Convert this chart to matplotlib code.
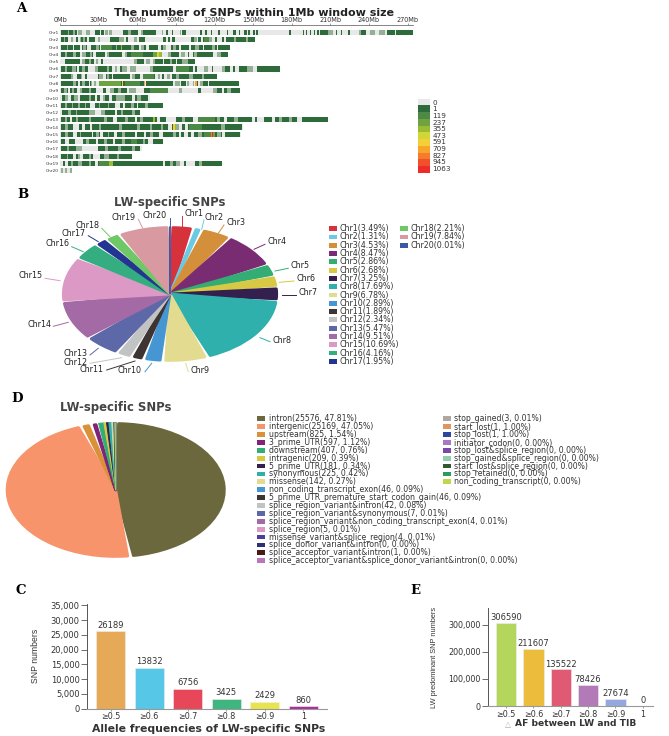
import matplotlib
matplotlib.use('Agg')
import matplotlib.pyplot as plt
from matplotlib.patches import Rectangle

W, H = 669, 736

# Panel A: chromosome lengths (Mb) and SNP-rich stretches
chrom_names = ['Chr%d' % i for i in range(1, 21)]
chrom_len = [274, 151.5, 132, 130.6, 104.5, 170.7, 122, 139, 139.5, 69.4,
             79.5, 62, 208, 141.7, 140.4, 80, 63.5, 56, 126, 9]
chr1_blocks = [(0.5, 6), (6.5, 13), (13.5, 16.6), (20, 23), (27, 31), (32, 34), (35, 37), (38, 40), (48.5, 53), (54, 60.7), (62.5, 74.5), (79, 80), (82, 84), (87, 87.7), (93, 94), (95, 98), (109, 110), (112.6, 114), (117, 118), (123, 124), (129.5, 130.5), (134.6, 136.7), (139, 140), (143, 145), (146, 147.6), (150, 151), (152, 154), (178, 179.5), (188.6, 189.5), (191, 192), (194, 195), (197, 198), (199.5, 200.8), (202, 208.6), (211, 212), (214, 215.5), (218, 219), (224, 225), (232, 238), (241, 245), (247.5, 252.7), (254, 260), (261, 274)]
chr2_blocks = [(0.5, 6), (8, 10), (12, 14), (15, 20.5), (22.5, 27), (29, 31), (38.6, 49.5), (51, 53), (57, 59.5), (61.5, 66), (80, 82), (84, 85), (87, 89), (101.7, 106), (107.4, 109.5), (111, 118), (120, 122), (126, 127.4), (129, 151.5)]
chr3_blocks = [(0.5, 10), (11, 15), (16.5, 21), (24, 31), (32, 61), (63, 67), (69, 76), (78, 82), (86, 92), (94, 100), (102, 111), (112, 122), (123, 132)]
chr4_blocks = [(0.5, 15), (16.6, 25.7), (28, 35), (36, 48), (50, 79), (83.5, 92), (94, 97), (99, 100), (103, 119), (121.6, 130.6)]
chr5_blocks = [(3.6, 15.3), (16.6, 26), (28, 29.6), (32, 33), (57.6, 65), (66.4, 69.8), (72, 80), (81, 90), (91, 105)]
chr6_blocks = [(0.5, 12.7), (14.8, 21.8), (27, 40), (42.5, 44.4), (46.4, 51.6), (54, 59), (69.8, 88), (90.5, 103), (105, 106), (112, 115), (117.7, 119), (125.6, 132), (134.6, 135.5), (139.3, 150), (152.8, 170.7)]
chr7_blocks = [(0.5, 10), (12.7, 17), (19, 21), (29.6, 33.5), (35.5, 40), (41, 54), (55.5, 62), (64.6, 73.7), (75.7, 77.6), (78.9, 80.7), (82.7, 85), (86.6, 122)]
chr8_blocks = [(0.5, 14), (15, 22), (23, 25), (26, 28), (30, 34), (37, 66), (67, 88), (89.5, 93), (93.5, 97.5), (98.5, 100), (103, 104), (106, 107), (109, 115), (116, 139)]
chr9_blocks = [(0.5, 6), (7.5, 13), (15, 28), (33.5, 35.5), (38.6, 51.6), (53.4, 59), (65, 84), (92, 95), (107.4, 109.5), (119, 125.6), (127, 139.5)]
chr10_blocks = [(1, 6), (8, 14), (15.3, 27), (28.8, 31), (33.5, 38), (40, 55.5), (58, 68)]
chr11_blocks = [(0.5, 23), (27, 42.5), (46.4, 49), (50.3, 59.4), (60.7, 79.6)]
chr12_blocks = [(1.5, 27), (32, 42.5), (43.8, 62)]
chr13_blocks = [(0.5, 7.5), (8.8, 41), (44, 58), (60, 75), (77.6, 82), (89.8, 103.5), (107.4, 127), (130, 149), (151.5, 153), (158, 164.5), (167, 184), (188, 208)]
chr14_blocks = [(0.5, 10), (14.8, 16.6), (19, 23), (25, 84), (86.6, 92), (94.4, 97), (99, 141)]
chr15_blocks = [(0.5, 10), (13, 24.4), (25.7, 31), (33, 42), (44, 58), (60, 65), (67, 77), (80, 92), (94, 96), (99, 102), (104, 125.6), (128, 140)]
chr16_blocks = [(0.5, 3.6), (7, 11.4), (18, 28), (29.6, 41), (42.5, 68.5), (72, 80)]
chr17_blocks = [(0.5, 16.6), (24.4, 25), (29.6, 62)]
chr18_blocks = [(0.5, 10), (12, 15.3), (18, 25.7), (31, 56)]
chr19_blocks = [(2, 3.6), (6, 27), (29.6, 80), (81.5, 93), (96, 98), (105, 126)]
chr20_blocks = [(0.5, 2.3), (3.6, 5), (7.5, 8.8)]
chrom_blocks = [chr1_blocks, chr2_blocks, chr3_blocks, chr4_blocks, chr5_blocks, chr6_blocks, chr7_blocks,
                chr8_blocks, chr9_blocks, chr10_blocks, chr11_blocks, chr12_blocks, chr13_blocks, chr14_blocks,
                chr15_blocks, chr16_blocks, chr17_blocks, chr18_blocks, chr19_blocks, chr20_blocks]
# low density stretches that show up pale in the ideogram
chrom_pale = [[(6, 7), (10, 11.5), (14, 16.6), (20, 23), (35, 37), (38, 40), (53, 55), (62.5, 64), (79, 80), (93, 94), (208, 212), (232, 234), (241, 245), (247.5, 252.7)],
              [(3, 4), (8, 10), (15, 16), (18, 19), (29, 31), (46, 49.5), (57, 59.5), (104, 106), (116, 118), (135, 137), (144, 146)],
              [(5, 6), (18, 20), (28, 30), (43, 44), (55, 57), (63, 65), (80, 82), (88, 90), (105, 108), (118, 120)],
              [(4, 5), (10, 12), (17, 20), (23, 25), (36, 38), (50, 52), (83.5, 86), (94, 97), (104, 106), (122, 125)],
              [(16.6, 19), (22, 24), (28, 29.6), (57.6, 60), (66.4, 69.8), (72, 74), (85, 87), (95, 99)],
              [(4, 5), (9, 12), (17, 19), (27, 29), (36, 38), (42.5, 44.4), (48, 51.6), (54, 59), (70, 72), (92, 95), (112, 115), (125.6, 128), (145, 150)],
              [(8, 10), (16, 17), (30, 33), (36, 38), (55.5, 58), (75.7, 77.6), (82.7, 85), (90, 92), (100, 103), (110, 112)],
              [(10, 12), (17, 19), (24, 25), (26, 28), (57, 58), (89.5, 93), (98.5, 100), (103, 104), (109, 111)],
              [(3, 5), (9, 11), (15, 17), (22, 24), (39, 42), (45, 47), (53.4, 59), (70, 73), (92, 95), (119, 122), (130, 133)],
              [(4, 6), (11, 14), (22, 24), (33.5, 35), (43, 50), (60, 63)],
              [(4, 5), (9, 10), (14, 15), (19, 20), (30, 31), (37, 38), (55, 57), (66, 68)],
              [(6, 8), (12, 13), (22, 27), (32, 35), (47, 49), (56, 58)],
              [(4, 5), (12, 14), (22, 24), (34, 36), (50, 53), (62, 64), (95, 97), (112, 114), (122, 124), (135, 138), (170, 172), (178, 180)],
              [(4, 6), (30, 32), (46, 48), (60, 62), (70, 71), (78, 80), (89, 92), (105, 107), (125, 128)],
              [(4, 6), (15, 16), (28, 30), (37, 38), (48, 50), (70, 72), (88, 90), (107, 110), (122, 125)],
              [(20, 22), (34, 36), (48, 50), (56, 58), (64, 66)],
              [(5, 7), (12, 16.6), (35, 37), (45, 47), (56, 58)],
              [(5, 6), (14, 15.3), (22, 24), (34, 38), (44, 46)],
              [(8, 10), (14, 17), (22, 24), (30, 35), (85, 88), (90, 93), (108, 110)],
              [(0.5, 2.3), (3.6, 5), (7.5, 8.8)]]
# (chromosome index, start Mb, end Mb, SNP count) for the windows that are not dark green
hot_windows = [(3, 72, 75, 237), (3, 75, 77, 473), (3, 77, 79, 355), (2, 47, 48, 355), (7, 30, 47.5, 237), (7, 48, 49, 591),
               (7, 50, 62, 119), (7, 65, 66, 709), (7, 105, 106, 709), (13, 88, 89, 591), (13, 89, 90, 355), (14, 112, 117.5, 119),
               (14, 117.5, 118, 827), (14, 118, 119, 1063), (14, 119, 120, 237), (18, 38, 41, 355), (12, 72, 74, 355),
               (8, 70, 84, 119), (5, 90, 100, 119), (15, 55, 60, 119), (2, 32, 40, 119), (3, 55, 64, 119), (12, 107.4, 120, 119),
               (13, 100, 110, 119), (18, 30, 38, 119), (1, 112, 116, 119), (6, 64.6, 73, 119)]
density_breaks = [0, 1, 119, 237, 355, 473, 591, 709, 827, 945, 1063]
density_colors = ['#e8e8e8', '#2e6b3a', '#4d8a45', '#6ea33f', '#9bbb35', '#cfd636',
                  '#f4cf35', '#f9a42d', '#f57c2a', '#f1502a', '#ee2b2b']
PALE = '#94b094'

# Panel B
b_share = [3.49, 1.31, 4.53, 8.47, 2.86, 2.68, 3.25, 17.69, 6.78, 2.89,
           1.89, 2.34, 5.47, 9.51, 10.69, 4.16, 1.95, 2.21, 7.84, 0.01]
b_colors = ['#d6323c', '#6cc9e4', '#d48f3a', '#7a2c72', '#34ad74', '#d8c945', '#33204f', '#2fb0ac', '#e3dc90', '#4596d2',
            '#3d3433', '#c2c4c4', '#5d68a8', '#a36aa5', '#dd99c5', '#34ae80', '#233591', '#6ec866', '#d89aa0', '#3e58a8']

# Panel D
d_names = ['intron', 'intergenic', 'upstream', '3_prime_UTR', 'downstream', 'intragenic', '5_prime_UTR', 'synonymous',
           'missense', 'non_coding_transcript_exon', '5_prime_UTR_premature_start_codon_gain',
           'splice_region_variant&intron', 'splice_region_variant&synonymous', 'splice_region_variant&non_coding_transcript_exon',
           'splice_region', 'missense_variant&splice_region', 'splice_donor_variant&intron', 'splice_acceptor_variant&intron',
           'splice_acceptor_variant&splice_donor_variant&intron', 'stop_gained', 'start_lost', 'stop_lost', 'initiator_codon',
           'stop_lost&splice_region', 'stop_gained&splice_region', 'start_lost&splice_region', 'stop_retained',
           'non_coding_transcript']
d_counts = [25576, 25169, 825, 597, 407, 209, 181, 225, 142, 46, 46, 42, 7, 4, 5, 4, 0, 1, 0, 3, 1, 1, 0, 0, 0, 0, 0, 0]
d_share = ['47.81', '47.05', '1.54', '1.12', '0.76', '0.39', '0.34', '0.42', '0.27', '0.09', '0.09', '0.08', '0.01', '0.01',
           '0.01', '0.01', '0.00', '0.00', '0.00', '0.01', '1.00', '1.00', '0.00', '0.00', '0.00', '0.00', '0.00', '0.00']
d_colors = ['#6b683e', '#f8946c', '#d9913a', '#80237a', '#34ad74', '#d8c945', '#33204f', '#2fb0ac', '#e3dc90', '#4596d2',
            '#3d3433', '#c2c4c4', '#5d68a8', '#a36aa5', '#dd99c5', '#4b3ea0', '#2f2f78', '#4c1a14', '#bb77bb', '#b0a6a2',
            '#e0945f', '#2f45a0', '#a878c4', '#7a48a8', '#8fd0aa', '#35592f', '#2f9a5e', '#bcd94a']

# Panel C
c_cats = ['≥0.5', '≥0.6', '≥0.7', '≥0.8', '≥0.9', '1']
c_vals = [26189, 13832, 6756, 3425, 2429, 860]
c_colors = ['#e6a957', '#56c7e6', '#e8475a', '#3fb57f', '#e8e44f', '#a83296']

# Panel E
e_cats = ['≥0.5', '≥0.6', '≥0.7', '≥0.8', '≥0.9', '1']
e_vals = [306590, 211607, 135522, 78426, 27674, 0]
e_colors = ['#b4d65c', '#ecbc3c', '#df5a72', '#b27ab6', '#94a8de', '#cccccc']

TXT = '#333333'
fig = plt.figure(figsize=(W / 100, H / 100), dpi=100)


def px_axes(left, top, right, bottom):
    return fig.add_axes([left / W, 1 - bottom / H, (right - left) / W, (bottom - top) / H])


def density_color(count):
    return density_colors[max(i for i, b in enumerate(density_breaks) if count >= b)]


def round_pie(ax, values, colors):
    wedges, _ = ax.pie(values, colors=colors, startangle=90, counterclock=False)
    ax.set_aspect('auto')
    ax.set_xlim(-1, 1)
    ax.set_ylim(-1, 1)
    for w in wedges:
        span = w.theta2 - w.theta1
        w.set_clip_on(False)
        w.set_edgecolor(w.get_facecolor())
        w.set_joinstyle('round')
        if span > 4:
            # rounded corners with a white gap between the slices
            w.set_radius(0.97)
            w.set_theta1(w.theta1 + 1.5)
            w.set_theta2(w.theta2 - 1.5)
            w.set_linewidth(2)
        else:
            w.set_radius(0.985)
            w.set_linewidth(0.7)


# A: ideogram
ax = px_axes(60.3, 25.3, 412.7, 180)
ax.set_xlim(0, 274)
ax.set_ylim(20.3, -1.02)
for i, blocks in enumerate(chrom_blocks):
    ax.barh(i, chrom_len[i], height=0.7, color=density_colors[0], linewidth=0)
    ax.broken_barh([(s, e - s) for s, e in blocks], (i - 0.35, 0.7), facecolors=density_colors[1], linewidth=0)
    ax.broken_barh([(s, e - s) for s, e in chrom_pale[i]], (i - 0.35, 0.7), facecolors=PALE, linewidth=0)
for i, s, e, count in hot_windows:
    ax.broken_barh([(s, e - s)], (i - 0.35, 0.7), facecolors=density_color(count), linewidth=0)
for side in ['left', 'right', 'bottom']:
    ax.spines[side].set_visible(False)
ax.spines['top'].set_color('#555555')
ax.spines['top'].set_linewidth(0.5)
ax.set_xticks(range(0, 271, 30))
ax.set_xticklabels(['%dMb' % v for v in range(0, 271, 30)], fontsize=4.7, color=TXT)
ax.xaxis.tick_top()
ax.tick_params(axis='x', length=1.2, width=0.4, pad=0.8, color='#555555')
ax.set_yticks(range(20))
ax.set_yticklabels(chrom_names, fontsize=3.2, color=TXT)
ax.tick_params(axis='y', length=0, pad=1.2)

# B and D pies
ax_b = px_axes(60, 225.5, 280, 362.5)
round_pie(ax_b, b_share, b_colors)
ax_d = px_axes(3.7, 421.5, 227.7, 558.5)
round_pie(ax_d, d_counts, d_colors)

# C: bars
ax_c = px_axes(87.3, 603.5, 326.7, 708.7)
ax_c.bar(range(6), c_vals, width=0.76, color=c_colors, edgecolor='#eeeeee', linewidth=0.4)
ax_c.set_xlim(-0.607, 5.61)
ax_c.set_ylim(0, 35600)
ax_c.set_xticks(range(6))
ax_c.set_xticklabels(c_cats, fontsize=5.8, color=TXT)
ax_c.set_yticks(range(0, 35001, 5000))
ax_c.set_yticklabels(['{:,}'.format(v) for v in range(0, 35001, 5000)], fontsize=6, color=TXT)
for x, v in enumerate(c_vals):
    ax_c.text(x, v + 500, str(v), ha='center', va='bottom', fontsize=6, color=TXT)

# E: bars
ax_e = px_axes(488.3, 608.3, 653.3, 706)
ax_e.bar(range(6), e_vals, width=0.745, color=e_colors, edgecolor='#eeeeee', linewidth=0.4)
ax_e.set_xlim(-0.655, 5.39)
ax_e.set_ylim(0, 361700)
ax_e.set_xticks(range(6))
ax_e.set_xticklabels(e_cats, fontsize=5.8, color=TXT)
ax_e.set_yticks([0, 100000, 200000, 300000])
ax_e.set_yticklabels(['0', '100,000', '200,000', '300,000'], fontsize=5.8, color=TXT)
for x, v in enumerate(e_vals):
    ax_e.text(x, v + 3000, str(v), ha='center', va='bottom', fontsize=6, color=TXT)

for a in (ax_c, ax_e):
    a.spines['top'].set_visible(False)
    a.spines['right'].set_visible(False)
    a.spines['left'].set_color('#555555')
    a.spines['left'].set_linewidth(0.7)
    a.spines['bottom'].set_color('#999999')
    a.spines['bottom'].set_linewidth(0.8)
    a.tick_params(axis='y', length=4, width=0.6, pad=1.5, color='#555555')
    a.tick_params(axis='x', length=1.5, width=0.5, pad=1.2, color='#777777')

# overlay in reference pixels for titles, legends, leader lines
ov = fig.add_axes([0, 0, 1, 1], zorder=5)
ov.set_xlim(0, W)
ov.set_ylim(H, 0)
ov.axis('off')


def put(x, y, s, size, ha='left', bold=False, **kw):
    kw.setdefault('color', TXT)
    ov.text(x, y, s, fontsize=size, ha=ha, va='center', fontweight='bold' if bold else 'normal', **kw)


def swatch(x, y, color):
    ov.add_patch(Rectangle((x, y - 2.4), 8, 4.8, facecolor=color, edgecolor='none'))


for letter, x, y in [('A', 16, 9), ('B', 17, 195), ('D', 11, 398), ('C', 16, 590), ('E', 410, 590)]:
    put(x, y, letter, 9.5, bold=True, family='DejaVu Serif', color='black')

put(254, 12.5, 'The number of SNPs within 1Mb window size', 8, ha='center', bold=True, color='#222222')
put(169.5, 202.7, 'LW-specific SNPs', 8.4, ha='center', bold=True, color='#444444')
put(115.5, 407.7, 'LW-specific SNPs', 8.4, ha='center', bold=True, color='#444444')

# density colour key
for i, (brk, col) in enumerate(zip(density_breaks, density_colors)):
    ov.add_patch(Rectangle((417.7, 98.7 + 6.73 * i), 12.3, 6.73, facecolor=col, edgecolor='none'))
    put(432.5, 102.7 + 6.63 * i, str(brk), 5.2)

# B slice labels: text position, leader start, leader end (pixels)
b_label_xy = [(194, 213), (214, 217.5), (236, 222.7), (277, 241.7), (300, 265.3), (306, 278.7), (308, 292.7), (282, 340.3),
              (200, 370.3), (129, 370.7), (92, 370), (76, 362.5), (75, 353.7), (39, 324.3), (31, 276), (57, 243.3), (74, 234), (87, 226), (124, 217), (155, 215)]
b_lead_from = [(182.3, 226.7), (201.7, 229.3), (218.3, 233.3), (254, 249.3), (275, 271), (279.3, 282.3), (281.7, 294.7), (260, 337.7),
               (185.7, 363.3), (151.7, 363.3), (135, 361), (121.7, 357.7), (98.3, 348.3), (68.3, 322.3), (60, 280.7), (83.3, 251.7), (98.3, 241.7), (110, 236.7), (142.7, 228.3), (170, 226.7)]
b_lead_to = [(182.3, 215.7), (204, 220), (224, 225), (265, 244.3), (288.3, 268.3), (294, 281), (296, 294.7), (270, 341.7),
             (188.3, 371.7), (145, 371.7), (106.7, 370), (90, 363.3), (90, 355), (53.3, 326.3), (45, 278.3), (71.7, 246.7), (88.3, 235.7), (101.7, 228.3), (138.3, 219.3), (170, 217.7)]
for i, name in enumerate(chrom_names):
    put(b_label_xy[i][0], b_label_xy[i][1], name, 5.8, ha='center', color='#222222')
    ov.plot([b_lead_from[i][0], b_lead_to[i][0]], [b_lead_from[i][1], b_lead_to[i][1]], color=b_colors[i], lw=0.7)

# B legend
for i, name in enumerate(chrom_names):
    col = 0 if i < 17 else 1
    row = i if i < 17 else i - 17
    y = 228.7 + 8.29 * row
    swatch([328.7, 400][col], y, b_colors[i])
    put([340, 410.7][col], y, '%s(%.2f%%)' % (name, b_share[i]), 5.7)

# D legend
for i, name in enumerate(d_names):
    col = 0 if i < 19 else 1
    row = i if i < 19 else i - 19
    y = 418.7 + 7.89 * row
    swatch([257.3, 442.7][col], y, d_colors[i])
    put([269.3, 454.3][col], y, '%s(%d, %s%%)' % (name, d_counts[i], d_share[i]), 5.6)

# axis titles
put(209, 728.7, 'Allele frequencies of LW-specific SNPs', 7.8, ha='center', bold=True)
put(35, 656, 'SNP numbers', 6.2, ha='center', rotation=90, family='Liberation Sans')
put(508, 724.5, '△', 5.5, ha='center', color='#aaaaaa')
put(575.5, 724, 'AF between LW and TIB', 6.6, ha='center', bold=True)
put(434, 657, 'LW predominant SNP numbers', 5.3, ha='center', rotation=90, family='Liberation Sans')

fig.savefig('out.png', dpi=100)
